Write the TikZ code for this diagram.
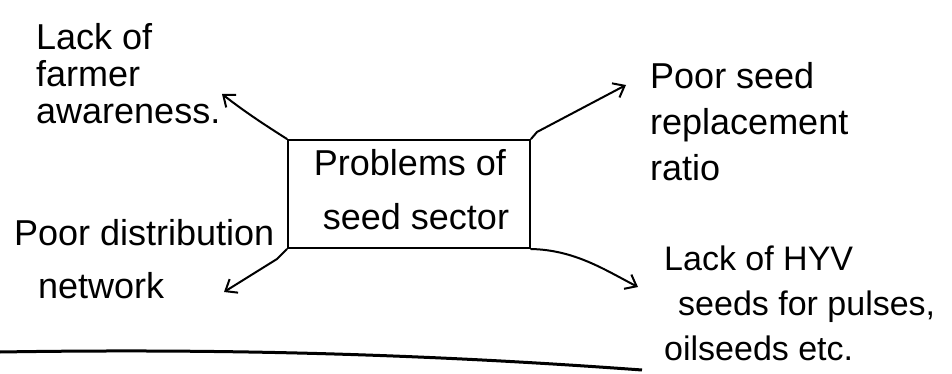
\documentclass[tikz,border=0pt]{standalone}
\usepackage{fontspec}
\setmainfont{Liberation Sans}
\usetikzlibrary{arrows.meta}
\begin{document}
\begin{tikzpicture}[x=1pt,y=-1pt,
  hand/.style={font=\fontsize{36}{37}\selectfont, inner sep=0pt, align=left, anchor=base west},
  conn/.style={line width=2pt, line cap=round, line join=round},
  arr/.style={conn, -{Straight Barb[length=10pt,width=16pt,line width=2pt]}}]
\fill[white] (0,0) rectangle (952,374);
\useasboundingbox (0,0) rectangle (952,374);
% central box
\node[draw, line width=2pt, minimum width=242pt, minimum height=108pt, inner sep=0pt] (box) at (409,194) {};
\node[font=\fontsize{36}{54}\selectfont, align=center, inner sep=0pt, anchor=base] (boxtext) at (410,229)
      {Problems of\\ \hspace{12pt}seed sector};
% texts (base anchor = baseline of last line)
\node[hand] (aware) at (36,124) {Lack of\\farmer\\awareness.};
\node[hand] (distA) at (14,245) {Poor distribution};
\node[hand] (distB) at (38,298) {network};
\node[hand, font=\fontsize{36}{46}\selectfont] (ratio) at (650,180) {Poor seed\\replacement\\ratio};
\node[hand, font=\fontsize{34}{45}\selectfont] (hyv) at (664,360) {Lack of HYV\\\hspace{14pt}seeds for pulses,\\oilseeds etc.};
% arrow end points
\coordinate (tA) at (222,94);
\coordinate (tB) at (224,292);
\coordinate (tC) at (626,85);
\coordinate (tD) at (638,287);
% connectors
\draw[arr] (box.north west) .. controls (265,125) and (245,112) .. (tA);
\draw[arr] (box.south west) -- ++(-10,10) -- (tB);
\draw[arr] (box.north east) -- ++(6,-7) -- (tC);
\draw[arr] (box.south east) .. controls (575,250) and (605,270) .. (tD);
% bottom rule
\coordinate (rl) at (0,352);
\coordinate (rr) at (642,370);
\draw[line width=3pt] (rl) .. controls (250,348) and (450,356) .. (rr);
\end{tikzpicture}
\end{document}
